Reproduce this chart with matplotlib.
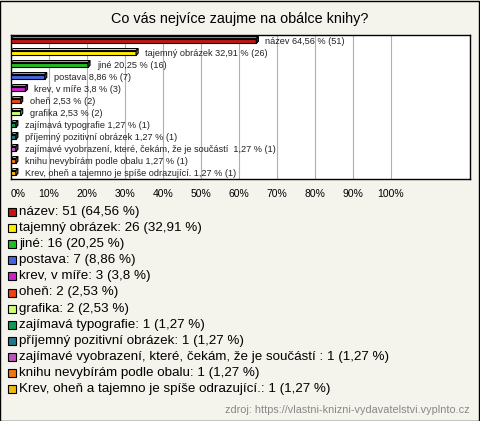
import matplotlib
matplotlib.use("Agg")
import matplotlib.pyplot as plt
from matplotlib.patches import Polygon, Rectangle
from matplotlib.colors import to_rgb

plt.rcParams["font.family"] = ["Liberation Sans", "DejaVu Sans"]

# data
categories = [
    "název", "tajemný obrázek", "jiné", "postava", "krev, v míře", "oheň",
    "grafika", "zajímavá typografie", "příjemný pozitivní obrázek",
    "zajímavé vyobrazení, které, čekám, že je součástí ",
    "knihu nevybírám podle obalu", "Krev, oheň a tajemno je spíše odrazující.",
]
counts = [51, 26, 16, 7, 3, 2, 2, 1, 1, 1, 1, 1]
percents = [64.56, 32.91, 20.25, 8.86, 3.8, 2.53, 2.53, 1.27, 1.27, 1.27, 1.27, 1.27]
colors = [
    "#c01810", "#ffee00", "#22bb22", "#4466dd", "#cc22cc", "#ee4411",
    "#ccff77", "#119955", "#227788", "#bb55bb", "#ee7711", "#eebb11",
]
x_ticks = list(range(0, 101, 10))

title = "Co vás nejvíce zaujme na obálce knihy?"
source = "zdroj: https://vlastni-knizni-vydavatelstvi.vyplnto.cz"

BG = "#f4f3ec"


def fmt(v):
    return f"{v:g}".replace(".", ",")


def shade(c, f):
    r, g, b = to_rgb(c)
    if f > 1:
        return tuple(x + (1 - x) * (f - 1) for x in (r, g, b))
    return tuple(x * f for x in (r, g, b))


fig = plt.figure(figsize=(4.8, 4.21), dpi=100, facecolor=BG)
fig.patches.append(Rectangle((0.001, 0.001), 0.997, 0.997, transform=fig.transFigure,
                             fill=False, edgecolor="black", linewidth=1.0))

fig.text(0.5, 1 - 19 / 421, title, ha="center", va="center", fontsize=10.4)

ax = fig.add_axes([11 / 480, 1 - 179 / 421, 459 / 480, 144 / 421])
ax.set_facecolor("white")
ax.set_xlim(0, 120.8)
ax.set_ylim(len(categories) - 0.5, -0.5)
for x in x_ticks[1:]:
    ax.axvline(x, color="#b0b0b0", linewidth=0.8, zorder=0)

h = 0.4       # bar thickness (slot units)
dx, dy = 0.55, 0.17  # 3D depth
for i, (cat, v, n, c) in enumerate(zip(categories, percents, counts, colors)):
    top, bot = i - h / 2, i + h / 2
    ax.add_patch(Rectangle((0, top), v, h, facecolor=c, edgecolor="black",
                           linewidth=0.8, zorder=3))
    ax.add_patch(Polygon([(0, top), (v, top), (v + dx, top - dy), (dx, top - dy)],
                         closed=True, facecolor=shade(c, 1.45), edgecolor="black",
                         linewidth=0.8, zorder=3))
    ax.add_patch(Polygon([(v, top), (v + dx, top - dy), (v + dx, bot - dy), (v, bot)],
                         closed=True, facecolor=shade(c, 0.6), edgecolor="black",
                         linewidth=0.8, zorder=3))
    ax.annotate(f"{cat} {fmt(v)} % ({n})", (v + dx, i), xytext=(5, 0),
                textcoords="offset points", va="center", ha="left", fontsize=6.6,
                color="#222222")

ax.set_yticks([])
ax.set_xticks(x_ticks)
ax.set_xticklabels([f"{x}%" for x in x_ticks], fontsize=7.5)
ax.tick_params(axis="x", length=0, pad=7)
ax.get_xticklabels()[0].set_horizontalalignment("left")
for s in ax.spines.values():
    s.set_linewidth(1.0)
    s.set_color("black")

# legend
for i, (cat, v, n, c) in enumerate(zip(categories, percents, counts, colors)):
    yc = 212 + 16.1 * i
    fig.patches.append(Rectangle((8 / 480, 1 - (yc + 4) / 421), 8 / 480, 8 / 421,
                                 transform=fig.transFigure, facecolor=c,
                                 edgecolor="black", linewidth=0.8))
    fig.text(19 / 480, 1 - yc / 421, f"{cat}: {n} ({fmt(v)} %)", ha="left",
             va="center", fontsize=9.6)

fig.text(470 / 480, 1 - 410 / 421, source, ha="right", va="center", fontsize=7.8,
         color="#888888")

fig.savefig("out.png", dpi=100, facecolor=BG)
